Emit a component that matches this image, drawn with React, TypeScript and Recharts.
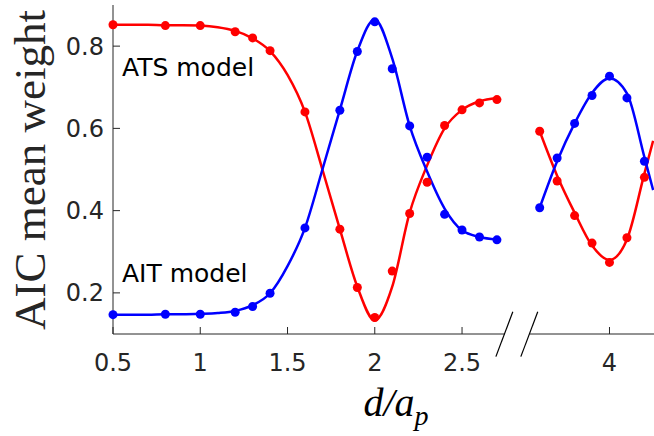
import React from "react";
import {
  ComposedChart,
  Line,
  XAxis,
  YAxis,
  ReferenceLine,
  Customized,
} from "recharts";

// the axis is broken between 2.7 and 3.6, the right part is drawn shifted left
const BREAK_SHIFT = 0.655;
const toPos = (x: number) => (x > 3 ? x - BREAK_SHIFT : x);
const toReal = (p: number) => (p > 2.8 ? p + BREAK_SHIFT : p);

// fitted curves
const fitX1 = [0.5, 0.6, 0.7, 0.8, 0.9, 1.0, 1.1, 1.2, 1.3, 1.4, 1.5, 1.6, 1.7, 1.8, 1.9, 2.0, 2.1, 2.2, 2.3, 2.4, 2.5, 2.6, 2.7];
const atsFit1 = [0.852, 0.852, 0.852, 0.851, 0.851, 0.85, 0.846, 0.837, 0.819, 0.788, 0.73, 0.64, 0.5, 0.355, 0.215, 0.133, 0.215, 0.395, 0.51, 0.6, 0.645, 0.666, 0.674];
const aitFit1 = [0.147, 0.147, 0.147, 0.148, 0.148, 0.149, 0.151, 0.156, 0.17, 0.199, 0.265, 0.358, 0.5, 0.645, 0.788, 0.865, 0.77, 0.606, 0.495, 0.405, 0.352, 0.336, 0.33];

const fitX2 = [3.6, 3.7, 3.8, 3.9, 4.0, 4.1, 4.2, 4.25];
const atsFit2 = [0.593, 0.485, 0.395, 0.315, 0.28, 0.33, 0.49, 0.57];
const aitFit2 = [0.407, 0.52, 0.612, 0.686, 0.722, 0.685, 0.53, 0.45];

// measured points
const ptX1 = [0.5, 0.8, 1.0, 1.2, 1.3, 1.4, 1.6, 1.8, 1.9, 2.0, 2.1, 2.2, 2.3, 2.4, 2.5, 2.6, 2.7];
const atsPts1 = [0.852, 0.85, 0.85, 0.835, 0.82, 0.789, 0.64, 0.355, 0.213, 0.14, 0.253, 0.393, 0.469, 0.607, 0.645, 0.662, 0.67];
const aitPts1 = [0.147, 0.148, 0.148, 0.153, 0.167, 0.199, 0.358, 0.644, 0.787, 0.859, 0.745, 0.606, 0.53, 0.391, 0.353, 0.336, 0.329];

const ptX2 = [3.6, 3.7, 3.8, 3.9, 4.0, 4.1, 4.2];
const atsPts2 = [0.593, 0.472, 0.388, 0.321, 0.274, 0.334, 0.481];
const aitPts2 = [0.407, 0.528, 0.612, 0.68, 0.727, 0.674, 0.52];

const xTicks = [0.5, 1, 1.5, 2, 2.5, 4];
const yTicks = [0.2, 0.4, 0.6, 0.8];

const RED = "#ff0000";
const BLUE = "#0000ff";
const AXIS = "#262626";

const rows = (xs: number[], vs: number[]) =>
  xs.map((x, i) => ({ pos: toPos(x), v: vs[i] }));

const atsCurve1 = rows(fitX1, atsFit1);
const aitCurve1 = rows(fitX1, aitFit1);
const atsCurve2 = rows(fitX2, atsFit2);
const aitCurve2 = rows(fitX2, aitFit2);
const atsDots = [...rows(ptX1, atsPts1), ...rows(ptX2, atsPts2)];
const aitDots = [...rows(ptX1, aitPts1), ...rows(ptX2, aitPts2)];

// axis break position (in plot units)
const BRK_A = 2.745;
const BRK_B = 2.888;

function Annotations() {
  return (
    <g>
      <text x={122} y={76} fontFamily="DejaVu Sans" fontSize={25} fill="#000">
        ATS model
      </text>
      <text x={122} y={282} fontFamily="DejaVu Sans" fontSize={25} fill="#000">
        AIT model
      </text>
      <text
        transform="translate(45,170) rotate(-90)"
        textAnchor="middle"
        fontFamily="Liberation Serif"
        fontSize={45}
        fill={AXIS}
      >
        AIC mean weight
      </text>
      <text
        x={396}
        y={416}
        textAnchor="middle"
        fontFamily="Liberation Serif"
        fontStyle="italic"
        fontSize={40}
        fill="#000"
      >
        d/a
        <tspan dy={9} fontSize={28}>
          p
        </tspan>
      </text>
    </g>
  );
}

export default function App() {
  const dotStyle = (c: string) => ({ r: 4.5, fill: c, stroke: "none", clipDot: false });
  return (
    <div style={{ position: "absolute", left: 0, top: 0, background: "#fff" }}>
      <ComposedChart
        width={654}
        height={436}
        margin={{ top: 5, right: 0, bottom: 0, left: 0 }}
      >
        <XAxis
          type="number"
          dataKey="pos"
          domain={[0.5, 3.6]}
          allowDataOverflow
          ticks={xTicks.map(toPos)}
          interval={0}
          tickFormatter={(p: number) => String(Number(toReal(p).toFixed(2)))}
          height={102}
          axisLine={false}
          stroke={AXIS}
          tickSize={-7}
          tickMargin={27}
          tick={{ fontSize: 24, fill: AXIS, fontFamily: "DejaVu Sans" }}
        />
        <YAxis
          type="number"
          domain={[0.1, 0.9]}
          ticks={yTicks}
          interval={0}
          tickFormatter={(v: number) => v.toFixed(1)}
          width={113}
          axisLine={{ stroke: AXIS }}
          stroke={AXIS}
          tickSize={-7}
          tickMargin={16}
          tick={{ fontSize: 24, fill: AXIS, fontFamily: "DejaVu Sans" }}
        />
        {/* broken x axis line with the // marks */}
        <ReferenceLine segment={[{ x: 0.5, y: 0.1 }, { x: BRK_A, y: 0.1 }]} stroke={AXIS} ifOverflow="visible" />
        <ReferenceLine segment={[{ x: BRK_B, y: 0.1 }, { x: 3.6, y: 0.1 }]} stroke={AXIS} ifOverflow="visible" />
        <ReferenceLine segment={[{ x: BRK_A + 0.046, y: 0.154 }, { x: BRK_A - 0.051, y: 0.045 }]} stroke="#000" strokeWidth={1.2} ifOverflow="visible" />
        <ReferenceLine segment={[{ x: BRK_B + 0.046, y: 0.154 }, { x: BRK_B - 0.051, y: 0.045 }]} stroke="#000" strokeWidth={1.2} ifOverflow="visible" />

        <Line data={atsCurve1} dataKey="v" type="monotone" stroke={RED} strokeWidth={2.5} dot={false} activeDot={false} isAnimationActive={false} />
        <Line data={aitCurve1} dataKey="v" type="monotone" stroke={BLUE} strokeWidth={2.5} dot={false} activeDot={false} isAnimationActive={false} />
        <Line data={atsCurve2} dataKey="v" type="monotone" stroke={RED} strokeWidth={2.5} dot={false} activeDot={false} isAnimationActive={false} />
        <Line data={aitCurve2} dataKey="v" type="monotone" stroke={BLUE} strokeWidth={2.5} dot={false} activeDot={false} isAnimationActive={false} />
        <Line data={atsDots} dataKey="v" stroke="none" dot={dotStyle(RED)} activeDot={false} isAnimationActive={false} />
        <Line data={aitDots} dataKey="v" stroke="none" dot={dotStyle(BLUE)} activeDot={false} isAnimationActive={false} />

        <Customized component={<Annotations />} />
      </ComposedChart>
    </div>
  );
}
